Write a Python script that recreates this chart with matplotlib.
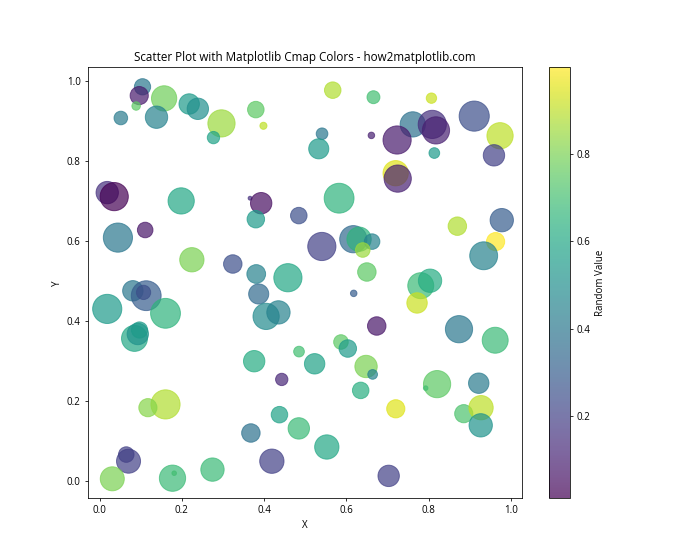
import matplotlib
matplotlib.use("Agg")
import matplotlib.pyplot as plt

plt.rcParams['font.family'] = ['Open Sans', 'DejaVu Sans']

x = [0.1045, 0.0965, 0.089, 0.157, 0.0518, 0.1385, 0.218, 0.239, 0.2965, 0.277,
     0.0187, 0.0357, 0.1985, 0.567, 0.666, 0.380, 0.3985, 0.541, 0.533, 0.661,
     0.366, 0.393, 0.380, 0.4845, 0.5825, 0.807, 0.911, 0.7616, 0.809, 0.818,
     0.7235, 0.9738, 0.814, 0.959, 0.720, 0.725, 0.978, 0.0447, 0.111, 0.2245,
     0.324, 0.081, 0.1135, 0.107, 0.0187, 0.1604, 0.085, 0.093, 0.0972, 0.5405,
     0.617, 0.631, 0.6627, 0.640, 0.650, 0.381, 0.458, 0.618, 0.387, 0.405,
     0.435, 0.674, 0.587, 0.6036, 0.485, 0.523, 0.376, 0.648, 0.664, 0.870,
     0.963, 0.934, 0.781, 0.8036, 0.772, 0.874, 0.962, 0.1604, 0.1176, 0.0705,
     0.065, 0.031, 0.1774, 0.1815, 0.2746, 0.443, 0.635, 0.4375, 0.4845, 0.368,
     0.5526, 0.419, 0.703, 0.8207, 0.793, 0.922, 0.7203, 0.8856, 0.9276, 0.9268]

y = [0.986, 0.964, 0.938, 0.957, 0.908, 0.910, 0.943, 0.931, 0.8945, 0.859,
     0.7215, 0.7115, 0.7007, 0.9776, 0.960, 0.929, 0.8885, 0.8686, 0.831, 0.8645,
     0.7075, 0.695, 0.655, 0.664, 0.7075, 0.9576, 0.9127, 0.892, 0.892, 0.877,
     0.853, 0.8636, 0.8204, 0.8147, 0.770, 0.7565, 0.6526, 0.609, 0.628, 0.5536,
     0.543, 0.476, 0.4638, 0.472, 0.4307, 0.4197, 0.357, 0.368, 0.378, 0.5868,
     0.605, 0.605, 0.599, 0.578, 0.523, 0.518, 0.5087, 0.4696, 0.468, 0.412,
     0.422, 0.388, 0.348, 0.3317, 0.324, 0.2935, 0.300, 0.2868, 0.267, 0.6376,
     0.599, 0.5636, 0.4888, 0.5012, 0.4456, 0.380, 0.3524, 0.192, 0.1838, 0.050,
     0.0666, 0.006, 0.0075, 0.020, 0.029, 0.2544, 0.227, 0.1663, 0.132, 0.1205,
     0.0855, 0.050, 0.0133, 0.2427, 0.2327, 0.245, 0.181, 0.1688, 0.1838, 0.1397]

colors = [0.40, 0.08, 0.75, 0.78, 0.42, 0.45, 0.55, 0.50, 0.85, 0.58,
          0.15, 0.013, 0.60, 0.88, 0.70, 0.75, 0.90, 0.40, 0.55, 0.10,
          0.15, 0.05, 0.55, 0.25, 0.65, 0.92, 0.25, 0.38, 0.15, 0.10,
          0.08, 0.90, 0.55, 0.20, 0.95, 0.10, 0.30, 0.40, 0.07, 0.80,
          0.25, 0.40, 0.30, 0.25, 0.55, 0.65, 0.60, 0.52, 0.55, 0.20,
          0.35, 0.65, 0.45, 0.85, 0.75, 0.45, 0.60, 0.30, 0.35, 0.48,
          0.45, 0.07, 0.75, 0.55, 0.70, 0.58, 0.62, 0.80, 0.45, 0.88,
          0.997, 0.45, 0.68, 0.62, 0.92, 0.40, 0.68, 0.88, 0.82, 0.20,
          0.20, 0.80, 0.68, 0.70, 0.68, 0.12, 0.63, 0.58, 0.68, 0.38,
          0.60, 0.20, 0.20, 0.75, 0.70, 0.42, 0.95, 0.72, 0.90, 0.52]

sizes = [280, 350, 76, 676, 196, 529, 441, 484, 784, 161,
         529, 841, 729, 289, 177, 289, 53, 144, 428, 45,
         16, 484, 324, 289, 942, 114, 961, 676, 841, 784,
         841, 729, 121, 484, 676, 784, 576, 900, 256, 625,
         361, 441, 942, 216, 900, 942, 713, 484, 279, 841,
         784, 625, 256, 225, 361, 372, 841, 45, 428, 729,
         576, 361, 225, 324, 121, 441, 484, 529, 100, 361,
         350, 824, 713, 576, 441, 784, 713, 900, 350, 610,
         256, 610, 729, 22, 576, 161, 289, 289, 484, 361,
         625, 625, 484, 784, 22, 441, 350, 350, 625, 576]

fig, ax = plt.subplots(figsize=(10, 8), dpi=70)
sc = ax.scatter(x, y, c=colors, s=sizes, cmap="viridis", alpha=0.7)
cbar = plt.colorbar(sc)
cbar.set_label("Random Value")
ax.set_title("Scatter Plot with Matplotlib Cmap Colors - how2matplotlib.com")
ax.set_xlabel("X")
ax.set_ylabel("Y")
fig.savefig("out.png", dpi=70)
